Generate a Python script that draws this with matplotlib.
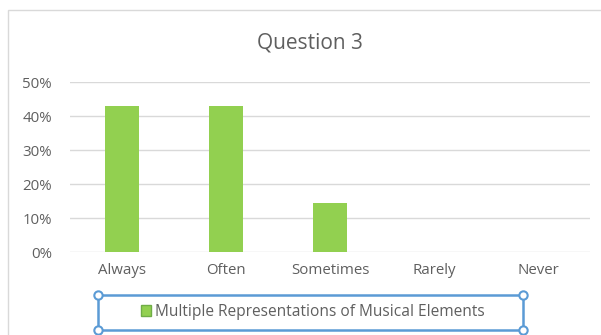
import matplotlib.pyplot as plt
from matplotlib.patches import Rectangle, Patch
from matplotlib.ticker import PercentFormatter

plt.rcParams["font.family"] = ["Open Sans", "DejaVu Sans"]

categories = ["Always", "Often", "Sometimes", "Rarely", "Never"]
shares = [0.4286, 0.4286, 0.1429, 0.0, 0.0]
series_name = "Multiple Representations of Musical Elements"

W, H = 601, 335
TEXT = "#5F5F5F"
GRID = "#D9D9D9"
GREEN = "#92D050"
BLUE = "#5B9BD5"


def fx(px):
    return px / W


def fy(py):
    return 1 - py / H


fig = plt.figure(figsize=(W / 100, H / 100), dpi=100)

# chart area border
fig.patches.append(Rectangle((fx(8), fy(340)), fx(600), fy(10) - fy(340),
                             transform=fig.transFigure, fill=False,
                             edgecolor=GRID, linewidth=1))

ax = fig.add_axes([fx(70), fy(252), fx(590) - fx(70), fy(82) - fy(252)])
ax.bar(range(len(categories)), shares, width=0.32, color=GREEN, zorder=2)
ax.set_xlim(-0.5, len(categories) - 0.5)
ax.set_ylim(0, 0.5)
ax.set_yticks([0, 0.1, 0.2, 0.3, 0.4, 0.5])
ax.yaxis.set_major_formatter(PercentFormatter(1.0, decimals=0))
ax.set_xticks(range(len(categories)))
ax.set_xticklabels(categories)
ax.grid(axis="y", color=GRID, linewidth=1, zorder=0)
ax.tick_params(length=0, labelsize=10.8, labelcolor=TEXT)
ax.tick_params(axis="y", pad=13)
ax.tick_params(axis="x", pad=8)
for s in ax.spines.values():
    s.set_visible(False)

fig.text(fx(310), fy(43), "Question 3", ha="center", va="center",
         fontsize=15, color=TEXT)

# legend with selection frame
leg = fig.legend([Patch(facecolor=GREEN, edgecolor="#70AD47")], [series_name],
                 loc="center", bbox_to_anchor=(fx(313), fy(312)),
                 frameon=False, fontsize=11.2, handlelength=0.65, handleheight=0.65,
                 handletextpad=0.25, labelcolor=TEXT)

x0, x1, y0, y1 = 98, 523, 295, 330
fig.patches.append(Rectangle((fx(x0), fy(y1)), fx(x1) - fx(x0), fy(y0) - fy(y1),
                             transform=fig.transFigure, fill=False,
                             edgecolor=BLUE, linewidth=1.8))
for cx, cy in [(x0, y0), (x1, y0), (x0, y1), (x1, y1)]:
    fig.add_artist(plt.Line2D([fx(cx)], [fy(cy)], marker="o", markersize=6,
                              markerfacecolor="white", markeredgecolor=BLUE,
                              markeredgewidth=1.5, transform=fig.transFigure))

fig.savefig("out.png", dpi=100)
